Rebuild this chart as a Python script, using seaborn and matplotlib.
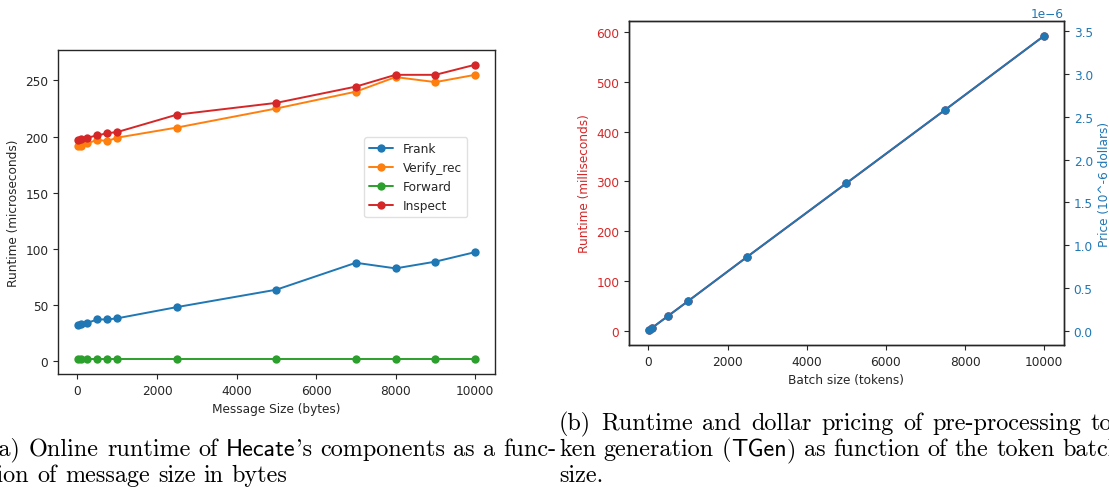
import numpy as np
import pandas as pd
import matplotlib
matplotlib.use("Agg")
import matplotlib.pyplot as plt
import seaborn as sns

# ---------------- data ----------------
msg_sizes = [10, 100, 250, 500, 750, 1000, 2500, 5000, 7000, 8000, 9000, 10000]
frank = [32, 33, 34, 37, 37, 38, 48, 63.5, 87.5, 82.5, 88.5, 97]
verify_rec = [192, 192, 194, 197, 196, 199, 208, 225, 240, 253, 248.5, 255]
forward = [1.5, 1.5, 1.5, 1.5, 1.5, 1.5, 1.5, 1.5, 1.5, 1.5, 1.5, 1.5]
inspect = [197, 198, 199, 201, 203, 204, 219.5, 230, 244.5, 255, 255, 264]
series_names = ["Frank", "Verify_rec", "Forward", "Inspect"]

batch_sizes = [10, 100, 500, 1000, 2500, 5000, 7500, 10000]
runtime_ms = [0.6, 5.9, 29.6, 59, 148.5, 296, 444, 593]
price = [0.0035e-6, 0.034e-6, 0.172e-6, 0.344e-6, 0.865e-6, 1.725e-6, 2.585e-6, 3.45e-6]

# ---------------- style ----------------
sns.set_style("ticks")
plt.rcParams["font.family"] = ["DejaVu Sans"]
FS = 8.7
plt.rcParams.update({
    "font.size": FS, "xtick.labelsize": FS, "ytick.labelsize": FS,
    "axes.labelsize": FS, "legend.fontsize": FS,
    "axes.edgecolor": "#262626", "axes.linewidth": 1.0,
    "xtick.color": "#262626", "ytick.color": "#262626",
    "xtick.major.size": 3.5, "ytick.major.size": 3.5,
})

W, H = 1109, 489
fig = plt.figure(figsize=(W / 100, H / 100), dpi=100)

def px_axes(l, t, r, b):
    return fig.add_axes([l / W, 1 - b / H, (r - l) / W, (b - t) / H])

# ---------------- left chart ----------------
ax1 = px_axes(58, 51, 495, 375)
df = pd.DataFrame({
    "size": msg_sizes * 4,
    "runtime": frank + verify_rec + forward + inspect,
    "series": sum([[n] * len(msg_sizes) for n in series_names], []),
})
pal = ["tab:blue", "tab:orange", "tab:green", "tab:red"]
sns.lineplot(data=df, x="size", y="runtime", hue="series", hue_order=series_names,
             palette=pal, marker="o", markersize=6, markeredgewidth=0,
             linewidth=1.4, ax=ax1)
ax1.set_xlabel("Message Size (bytes)")
ax1.set_ylabel("Runtime (microseconds)")
ax1.set_xticks([0, 2000, 4000, 6000, 8000, 10000])
leg = ax1.legend(loc="upper right", bbox_to_anchor=(0.936, 0.731), borderaxespad=0,
                 frameon=True)
leg.get_frame().set_edgecolor("#d9d9d9")

# ---------------- right chart ----------------
ax2 = px_axes(629, 22, 1064, 346)
red = "#d62728"
blue = "#1f77b4"
sns.lineplot(x=batch_sizes, y=runtime_ms, color=red, marker="o", markersize=6,
             markeredgewidth=0, linewidth=1.4, ax=ax2)
ax2.set_xlabel("Batch size (tokens)")
ax2.set_ylabel("Runtime (milliseconds)", color=red)
ax2.tick_params(axis="y", labelcolor=red)
ax2.set_xticks([0, 2000, 4000, 6000, 8000, 10000])
ax3 = ax2.twinx()
sns.lineplot(x=batch_sizes, y=price, color=blue, marker="o", markersize=6,
             markeredgewidth=0, linewidth=1.4, ax=ax3)
ax3.set_ylabel("Price (10^-6 dollars)", color=blue)
ax3.tick_params(axis="y", labelcolor=blue)
ax3.yaxis.get_offset_text().set_color(blue)

# ---------------- captions ----------------
SER = "cmr10"
SAN = "cmss10"
CFS = 17.4
fig.canvas.draw()
renderer = fig.canvas.get_renderer()

def write_line(x0, y, pieces, x1=None):
    words = [[]]
    for txt, fam in pieces:
        parts = txt.split(" ")
        for i, p in enumerate(parts):
            if i > 0:
                words.append([])
            if p:
                words[-1].append((p, fam))
    words = [w for w in words if w]
    placed = []
    for w in words:
        segs = []
        for txt, fam in w:
            t = fig.text(0, 1 - y / H, txt, fontsize=CFS, family=fam,
                         va="baseline", ha="left", color="black")
            segs.append((t, t.get_window_extent(renderer).width))
        placed.append(segs)
    wsum = sum(sum(wd for _, wd in segs) for segs in placed)
    sp = 0.333 * CFS * 100 / 72
    if x1 is not None and len(placed) > 1:
        sp = (x1 - x0 - wsum) / (len(placed) - 1)
    x = x0
    for segs in placed:
        for t, wd in segs:
            t.set_x(x / W)
            x += wd
        x += sp

write_line(-10, 456.5, [("(a) Online runtime of ", SER), ("Hecate", SAN),
                        ("'s components as a func-", SER)], x1=556)
write_line(-12, 482.5, [("tion of message size in bytes", SER)])
write_line(559, 430, [("(b) Runtime and dollar pricing of pre-processing to", SER)], x1=1112)
write_line(559, 456.5, [("ken generation (", SER), ("TGen", SAN),
                        (") as function of the token batch", SER)], x1=1122)
write_line(559, 482.5, [("size.", SER)])

fig.savefig("out.png", dpi=100)
